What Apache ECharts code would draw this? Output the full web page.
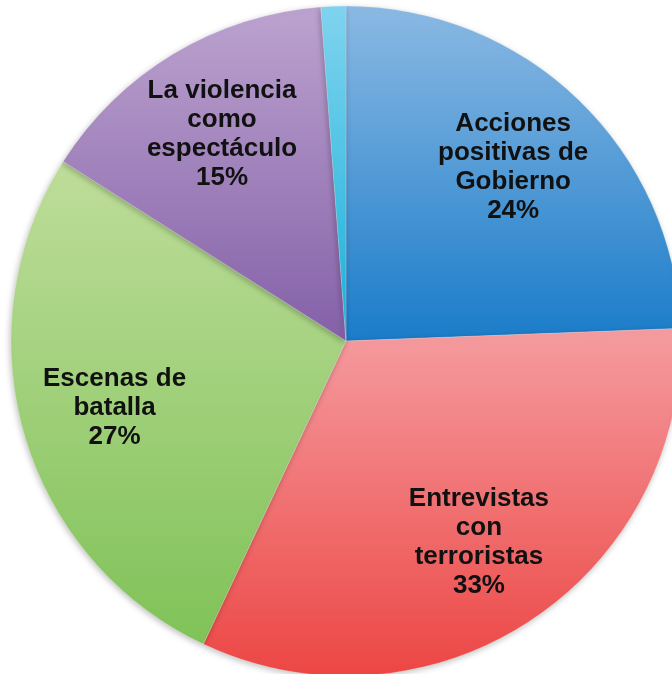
<!DOCTYPE html>
<html>
<head>
<meta charset="utf-8">
<script src="https://cdn.jsdelivr.net/npm/echarts@6/dist/echarts.min.js"></script>
<style>html,body{margin:0;padding:0;background:#fff}#chart{width:672px;height:674px}</style>
</head>
<body>
<div id="chart"></div>
<script>
const categories = ['Acciones\npositivas de\nGobierno', 'Entrevistas\ncon\nterroristas', 'Escenas de\nbatalla', 'La violencia\ncomo\nespectáculo', ''];
const values = [24.4, 32.6, 27, 14.8, 1.2];
const topColors = ['#8bb9e3', '#f59ca0', '#bedd9a', '#bca3cf', '#80d3ef'];
const bottomColors = ['#1a7cc9', '#ec4644', '#80c258', '#8460a8', '#19b2d8'];

const grad = (i) => new echarts.graphic.LinearGradient(0, 0, 0, 1, [
  { offset: 0, color: topColors[i] },
  { offset: 1, color: bottomColors[i] }
]);

const colored = categories.map((c, i) => ({
  name: c, value: values[i],
  itemStyle: { color: grad(i) }
}));
const labelData = categories.map((c, i) => ({
  name: c, value: values[i],
  label: { show: c !== '' }
}));

const chart = echarts.init(document.getElementById('chart'), null, { renderer: 'canvas' });
chart.setOption({
  animation: false,
  backgroundColor: '#ffffff',
  series: [
    {
      type: 'pie',
      center: [346, 341],
      radius: 335,
      startAngle: 90,
      clockwise: true,
      silent: true,
      avoidLabelOverlap: false,
      label: { show: false },
      labelLine: { show: false },
      itemStyle: {
        borderColor: 'rgba(255,255,255,0.35)',
        borderWidth: 0.6,
        shadowBlur: 6,
        shadowColor: 'rgba(0,0,0,0.25)',
        shadowOffsetX: -1,
        shadowOffsetY: 2
      },
      data: colored
    },
    {
      type: 'pie',
      center: [346, 341],
      radius: [0, 476],
      startAngle: 90,
      clockwise: true,
      silent: true,
      percentPrecision: 0,
      avoidLabelOverlap: false,
      itemStyle: { color: 'rgba(0,0,0,0)' },
      labelLine: { show: false },
      label: {
        position: 'inside',
        formatter: '{b}\n{d}%',
        color: '#111',
        fontFamily: 'Liberation Sans, Arial, sans-serif',
        fontWeight: 'bold',
        fontSize: 26,
        lineHeight: 29,
        align: 'center'
      },
      data: labelData
    }
  ]
});
</script>
</body>
</html>
